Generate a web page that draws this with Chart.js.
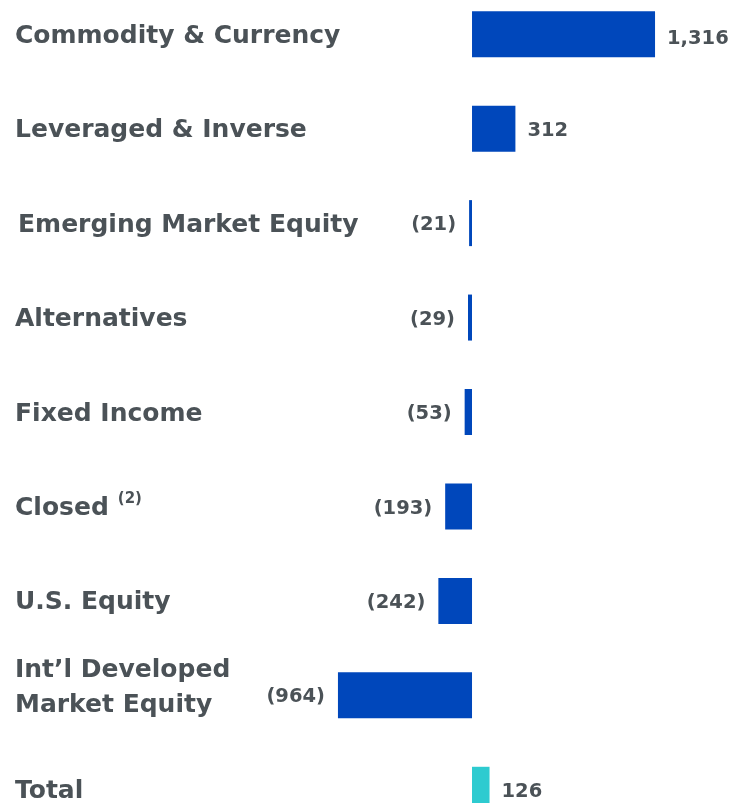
<!DOCTYPE html>
<html>
<head>
<meta charset="utf-8">
<script src="https://cdn.jsdelivr.net/npm/chart.js@4"></script>
<style>
  html, body { margin: 0; padding: 0; background: #fff; overflow: hidden; }
  #wrap { position: absolute; left: 0; top: -13px; width: 730px; height: 850px; }
</style>
</head>
<body>
<div id="wrap"><canvas id="miGrafico"></canvas></div>
<script>
// categories and net flows
const categorias = [
    'Commodity & Currency',
    'Leveraged & Inverse',
    'Emerging Market Equity',
    'Alternatives',
    'Fixed Income',
    'Closed',
    'U.S. Equity',
    ['Int\u2019l Developed', 'Market Equity'],
    'Total'
];
const valores = [1316, 312, -21, -29, -53, -193, -242, -964, 126];
const notas = ['', '', '', '', '', '(2)', '', '', ''];

const azul = '#0047bb';
const turquesa = '#2ecbd0';
const gris = '#4b5257';

const colores = valores.map((v, i) => i === valores.length - 1 ? turquesa : azul);

const fmt = (v) => {
    let s = Math.abs(v).toLocaleString('en-US');
    return v < 0 ? '(' + s + ')' : s;
};

// text next to the bars + category names on the left
const etiquetas = {
    id: 'etiquetas',
    afterDatasetsDraw(chart) {
        const ctx = chart.ctx;
        const meta = chart.getDatasetMeta(0);
        ctx.save();
        ctx.fillStyle = gris;
        ctx.textBaseline = 'middle';
        meta.data.forEach((bar, i) => {
            const v = valores[i];
            // value
            ctx.font = 'bold 19.5px "DejaVu Sans"';
            if (v >= 0) {
                ctx.textAlign = 'left';
                ctx.fillText(fmt(v), bar.x + 12, bar.y + (i === 0 ? 5 : 2));
            } else {
                ctx.textAlign = 'right';
                ctx.fillText(fmt(v), bar.x - 13, bar.y + 2);
            }
            // category
            ctx.textAlign = 'left';
            ctx.font = 'bold 25px "DejaVu Sans"';
            let cat = categorias[i];
            if (Array.isArray(cat)) {
                ctx.fillText(cat[0], 15, bar.y - 25);
                ctx.fillText(cat[1], 15, bar.y + 10);
            } else {
                let x0 = (i === 2) ? 18 : 15;
                ctx.fillText(cat, x0, bar.y + 2);
                if (notas[i]) {
                    let w = ctx.measureText(cat).width;
                    ctx.font = 'bold 15px "DejaVu Sans"';
                    ctx.fillText(notas[i], x0 + w + 9, bar.y - 7);
                }
            }
        });
        ctx.restore();
    }
};

var ctx = document.getElementById('miGrafico').getContext('2d');
var myChart = new Chart(ctx, {
    type: 'bar',
    data: {
        labels: categorias,
        datasets: [{
            data: valores,
            backgroundColor: colores,
            borderWidth: 0,
            categoryPercentage: 1,
            barPercentage: 0.487
        }]
    },
    options: {
        indexAxis: 'y',
        responsive: true,
        maintainAspectRatio: false,
        animation: false,
        layout: { padding: 0 },
        plugins: {
            legend: { display: false },
            tooltip: { enabled: false }
        },
        scales: {
            x: {
                display: false,
                min: -3394,
                max: 1855
            },
            y: {
                display: false
            }
        }
    },
    plugins: [etiquetas]
});
</script>
</body>
</html>
